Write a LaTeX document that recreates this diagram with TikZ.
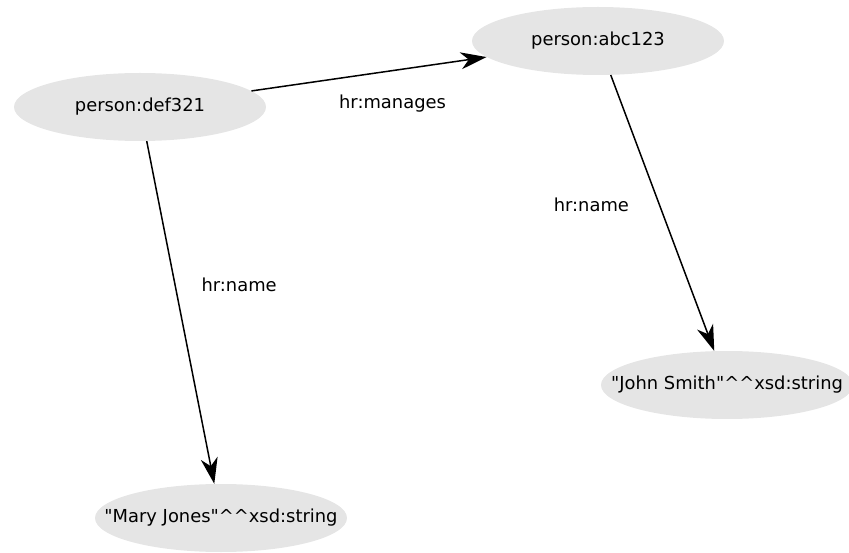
\documentclass[tikz,border=0pt]{standalone}
\usepackage{fontspec}
\setmainfont{DejaVu Sans}
\usepackage{tikz}
\usetikzlibrary{shapes.geometric,arrows.meta}

\definecolor{nodegray}{RGB}{229,229,229}
\newcommand{\restext}[1]{\makebox[0pt]{#1}}

\begin{document}
\begin{tikzpicture}[x=1pt,y=-1pt,
    res/.style={ellipse,fill=nodegray,inner sep=0pt,minimum width=252pt,minimum height=68pt,font=\fontsize{17.9}{20}\selectfont},
    lbl/.style={anchor=center,font=\fontsize{17.9}{20}\selectfont},
    link/.style={-{Stealth[length=26pt,width=17pt,inset=8pt]},line width=1.5pt}]
    \useasboundingbox (0,0) rectangle (849,553);
    % Resources
    \node[res] (def) at (140,107) {\restext{person:def321}};
    \node[res] (abc) at (598,41) {\restext{person:abc123}};
    \node[res] (john) at (727,385) {\restext{\textquotedbl John Smith\textquotedbl\textasciicircum\textasciicircum xsd:string}};
    \node[res] (mary) at (221,518) {\restext{\textquotedbl Mary Jones\textquotedbl\textasciicircum\textasciicircum xsd:string}};

    \path[link]
        (def) edge node[lbl,pos=.6,yshift=-33pt] (lmanages) {hr:manages} (abc)
        (abc) edge node[lbl,pos=.47,xshift=-68pt] (lnamejohn) {hr:name} (john)
        (def) edge node[lbl,pos=.42,xshift=64pt] (lnamemary) {hr:name} (mary);
\end{tikzpicture}
\end{document}
